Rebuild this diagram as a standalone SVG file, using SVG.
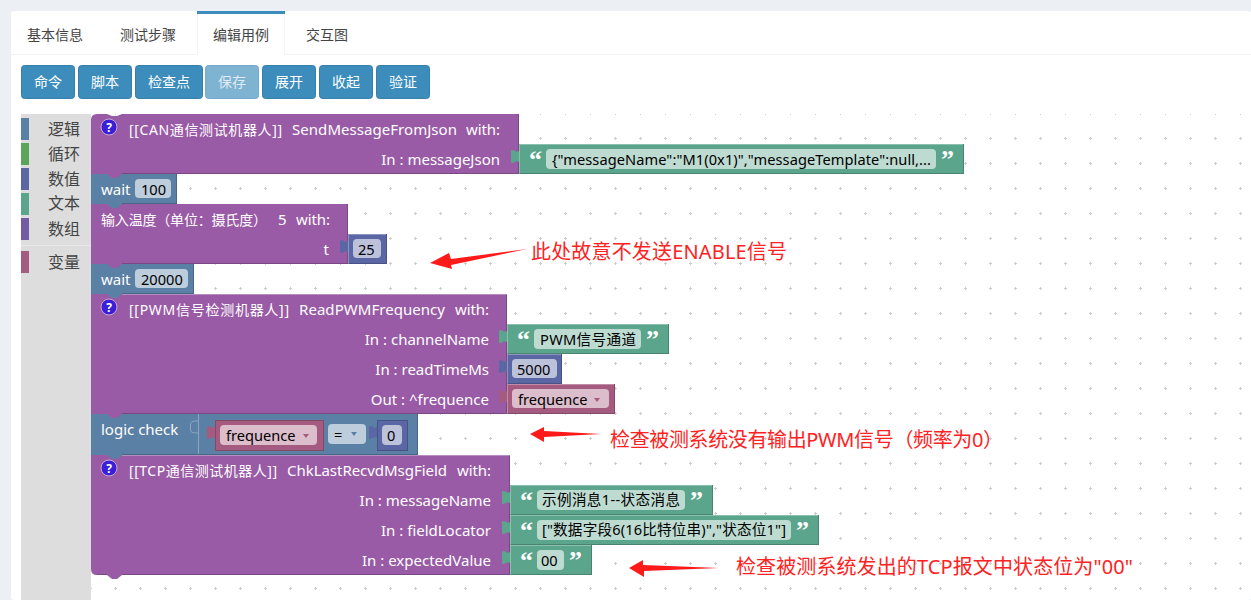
<svg xmlns="http://www.w3.org/2000/svg" width="1251" height="600" viewBox="0 0 1251 600">
<style>
text{font-family:"Noto Sans","Noto Sans CJK SC",sans-serif}
.tab{font-size:14px;fill:#444}
.btn{fill:#3c8dbc;stroke:#367fa9}
.btnt{font-size:14px;fill:#fff;text-anchor:middle}
.tb{font-size:16px;fill:#444}
.w{font-size:15px;fill:#fff}
.c{font-size:14px}
.r{font-size:15px;fill:#fff;text-anchor:end}
.k{font-size:14.6px;fill:#000}
.q{font-family:"Liberation Serif",serif;font-size:26px;font-weight:bold;fill:#fff}
.red{font-size:20px;fill:#ff2222}
.pu{fill:#995ba5}.bl{fill:#5b80a5}.gr{fill:#5ba58c}.nu{fill:#5b67a5}.va{fill:#a55b80}
.fg{fill:#bddbd1}.fb{fill:#bdcddb}.fn{fill:#bdc2db}.fv{fill:#dbbdcb}
.lp{stroke:#7a4984}.lb{stroke:#496684}.lg{stroke:#498470}.ln{stroke:#495284}.lv{stroke:#844966}
.hl{stroke:#fff;stroke-opacity:.3;fill:none}
.ar{fill:#ff1a1a}
</style>
<defs>
<pattern id="grid" x="13" y="11" width="25" height="25" patternUnits="userSpaceOnUse">
<path d="M1 2.500h3M2.500 1v3" stroke="#ccc" stroke-width="1"/>
</pattern>
<path id="pt" d="M0 1C-3 3-4 0-7 0C-8 0-8 1-8 2V11C-8 12-8 13-7 13C-4 13-3 10 0 12z"/>
</defs>
<rect width="1251" height="600" fill="#ecf0f5"/>
<rect x="11" y="11" width="1240" height="589" rx="3" fill="#fff"/>
<g id="tabs">
<path d="M11 54.500H1251" stroke="#f4f4f4"/>
<rect x="197" y="12" width="88" height="43" fill="#fff"/>
<path d="M197.500 14V55M284.500 14V55" stroke="#f4f4f4"/>
<rect x="197" y="11" width="88" height="3" fill="#3c8dbc"/>
<text class="tab" x="27" y="40">基本信息</text>
<text class="tab" x="120" y="40">测试步骤</text>
<text class="tab" x="213" y="40">编辑用例</text>
<text class="tab" x="306" y="40">交互图</text>
</g>
<g id="buttons">
<rect class="btn" x="21.500" y="65.500" width="53" height="33" rx="3"/><text class="btnt" x="48" y="87">命令</text>
<rect class="btn" x="78.500" y="65.500" width="53" height="33" rx="3"/><text class="btnt" x="105" y="87">脚本</text>
<rect class="btn" x="135.500" y="65.500" width="67" height="33" rx="3"/><text class="btnt" x="169" y="87">检查点</text>
<rect x="205.500" y="65.500" width="53" height="33" rx="3" fill="#7fb3d2" stroke="#76a9c9"/><text class="btnt" x="232" y="87" fill-opacity=".75">保存</text>
<rect class="btn" x="262.500" y="65.500" width="53" height="33" rx="3"/><text class="btnt" x="289" y="87">展开</text>
<rect class="btn" x="319.500" y="65.500" width="53" height="33" rx="3"/><text class="btnt" x="346" y="87">收起</text>
<rect class="btn" x="376.500" y="65.500" width="53" height="33" rx="3"/><text class="btnt" x="403" y="87">验证</text>
</g>
<rect x="91" y="114" width="1160" height="486" fill="url(#grid)"/>
<g id="toolbox">
<rect x="21" y="114" width="70" height="486" fill="#ddd"/>
<rect class="bl" x="21" y="118" width="8" height="22"/><text class="tb" x="48" y="135">逻辑</text>
<rect x="21" y="143" width="8" height="22" fill="#5ba55b"/><text class="tb" x="48" y="160">循环</text>
<rect class="nu" x="21" y="168" width="8" height="22"/><text class="tb" x="48" y="185">数值</text>
<rect class="gr" x="21" y="193" width="8" height="22"/><text class="tb" x="48" y="209">文本</text>
<rect x="21" y="218" width="8" height="22" fill="#745ba5"/><text class="tb" x="48" y="235">数组</text>
<path d="M21 245.500H91" stroke="#e8e8e8"/>
<rect class="va" x="21" y="251" width="8" height="22"/><text class="tb" x="48" y="268">变量</text>
</g>
<g id="block-tcp">
<path class="pu" d="M91 455H510V575H122l-5 4h-5l-5-4H97q-6 0-6-6z"/>
<path class="lp" d="M97 574.500H107M122 574.500H510M509.500 455V575" fill="none"/>
<path class="hl" d="M122 455.500H510"/>
<circle cx="109" cy="468" r="8" fill="#3a1fd6" stroke="#c9a9d0"/><text x="109" y="473" font-size="12" font-weight="bold" fill="#fff" text-anchor="middle">?</text>
<text class="w c" x="129" y="476" textLength="148">[[TCP通信测试机器人]]</text>
<text class="w" x="287" y="476" textLength="160">ChkLastRecvdMsgField</text>
<text class="w" x="457" y="476" textLength="34">with:</text>
<text class="r" x="491" y="506">In : messageName</text>
<text class="r" x="491" y="536">In : fieldLocator</text>
<text class="r" x="491" y="566">In : expectedValue</text>
</g>
<g id="value-messageName">
<use href="#pt" x="510" y="491" class="gr"/><rect class="gr" x="510" y="485" width="203" height="30"/><path class="lg" d="M510 514.500H713M712.500 485V515" fill="none"/><path class="hl" d="M510.500 515V485.500H712"/>
<text class="q" x="520" y="509">“</text><rect class="fg" x="537" y="490" width="148" height="20" rx="4"/>
<text class="k c" x="542" y="505" textLength="138">示例消息1--状态消息</text><text class="q" x="690" y="509">”</text>
</g>
<g id="value-fieldLocator">
<use href="#pt" x="510" y="521" class="gr"/><rect class="gr" x="510" y="515" width="309" height="30"/><path class="lg" d="M510 544.500H819M818.500 515V545" fill="none"/><path class="hl" d="M510.500 545V515.500H818"/>
<text class="q" x="520" y="539">“</text><rect class="fg" x="537" y="520" width="254" height="20" rx="4"/>
<text class="k c" x="542" y="535" textLength="244">["数据字段6(16比特位串)","状态位1"]</text><text class="q" x="796" y="539">”</text>
</g>
<g id="value-expected">
<use href="#pt" x="510" y="551" class="gr"/><rect class="gr" x="510" y="545" width="82" height="30"/><path class="lg" d="M510 574.500H592M591.500 545V575" fill="none"/><path class="hl" d="M510.500 575V545.500H591"/>
<text class="q" x="520" y="569">“</text><rect class="fg" x="537" y="550" width="27" height="20" rx="4"/>
<text class="k" x="541" y="566">00</text><text class="q" x="569" y="569">”</text>
</g>
<g id="block-logic">
<path class="bl" d="M91 414H418V455H122l-5 4h-5l-5-4H91z"/>
<path d="M198.500 414V455M198.500 421h-2q-6 0-6 3v6q0 3 6 3h2" stroke="#8ca6c0" fill="none"/>
<path class="lb" d="M122 454.500H418M417.500 414V455" fill="none"/>
<text class="w" x="101" y="435">logic check</text>
<use href="#pt" x="215" y="426" class="va"/>
<rect class="va lv" x="215.500" y="420.500" width="108" height="30"/>
<rect class="fv" x="220" y="425" width="97" height="20" rx="4"/>
<text class="k" x="226" y="441">frequence</text><path d="M303 434h6l-3 4z" class="va"/>
<rect class="fb" x="328" y="424" width="38" height="20" rx="4"/><text class="k" x="334" y="440">=</text><path d="M351 432h6l-3 4z" class="bl"/>
<use href="#pt" x="377" y="426" class="nu"/>
<rect class="nu ln" x="377.500" y="420.500" width="30" height="30"/>
<rect class="fn" x="382" y="425" width="20" height="20" rx="4"/><text class="k" x="387" y="441">0</text>
</g>
<g id="block-pwm">
<path class="pu" d="M91 294H507V414H122l-5 4h-5l-5-4H91z"/>
<path class="lp" d="M122 413.500H507M506.500 294V414" fill="none"/>
<path class="hl" d="M122 294.500H507"/>
<circle cx="109" cy="307" r="8" fill="#3a1fd6" stroke="#c9a9d0"/><text x="109" y="312" font-size="12" font-weight="bold" fill="#fff" text-anchor="middle">?</text>
<text class="w c" x="129" y="315" textLength="160">[[PWM信号检测机器人]]</text>
<text class="w" x="299" y="315" textLength="146">ReadPWMFrequency</text>
<text class="w" x="455" y="315" textLength="34">with:</text>
<text class="r" x="489" y="345">In : channelName</text>
<text class="r" x="489" y="375">In : readTimeMs</text>
<text class="r" x="489" y="405">Out : ^frequence</text>
</g>
<g id="value-channel">
<use href="#pt" x="507" y="330" class="gr"/><rect class="gr" x="507" y="324" width="162" height="30"/><path class="lg" d="M507 353.500H669M668.500 324V354" fill="none"/><path class="hl" d="M507.500 354V324.500H668"/>
<text class="q" x="517" y="348">“</text><rect class="fg" x="534" y="329" width="107" height="20" rx="4"/>
<text class="k c" x="540" y="345" textLength="96">PWM信号通道</text><text class="q" x="646" y="348">”</text>
</g>
<g id="value-readTime">
<use href="#pt" x="507" y="360" class="nu"/><rect class="nu" x="507" y="354" width="55" height="30"/><path class="ln" d="M507 383.500H562M561.500 354V384" fill="none"/><path class="hl" d="M507.500 384V354.500H561"/>
<rect class="fn" x="512" y="359" width="45" height="19" rx="4"/><text class="k" x="517" y="375">5000</text>
</g>
<g id="value-frequence">
<use href="#pt" x="507" y="390" class="va"/><rect class="va" x="507" y="384" width="108" height="30"/><path class="lv" d="M507 413.500H615M614.500 384V414" fill="none"/><path class="hl" d="M507.500 414V384.500H614"/>
<rect class="fv" x="512" y="389" width="97" height="19" rx="4"/><text class="k" x="518" y="405">frequence</text><path d="M594 398h6l-3 4z" class="va"/>
</g>
<g id="block-wait2">
<path class="bl" d="M91 264H194V294H122l-5 4h-5l-5-4H91z"/>
<path class="lb" d="M122 293.500H194M193.500 264V294" fill="none"/>
<text class="w" x="101" y="285">wait</text>
<rect class="fb" x="135" y="269" width="53" height="19" rx="4"/><text class="k" x="141" y="285">20000</text>
</g>
<g id="block-temp">
<path class="pu" d="M91 204H348V264H122l-5 4h-5l-5-4H91z"/>
<path class="lp" d="M122 263.500H348M347.500 204V264" fill="none"/>
<text class="w c" x="101" y="225" textLength="166">输入温度（单位：摄氏度）</text>
<text class="w" x="278" y="225">5</text>
<text class="w" x="296" y="225" textLength="34">with:</text>
<text class="r" x="329" y="255">t</text>
</g>
<g id="value-t">
<use href="#pt" x="348" y="240" class="nu"/><rect class="nu" x="348" y="234" width="39" height="30"/><path class="ln" d="M348 263.500H387M386.500 234V264" fill="none"/><path class="hl" d="M348.500 264V234.500H386"/>
<rect class="fn" x="353" y="239" width="28" height="19" rx="4"/><text class="k" x="358" y="255">25</text>
</g>
<g id="block-wait1">
<path class="bl" d="M91 174H177V204H122l-5 4h-5l-5-4H91z"/>
<path class="lb" d="M122 203.500H177M176.500 174V204" fill="none"/>
<text class="w" x="101" y="195">wait</text>
<rect class="fb" x="135" y="179" width="36" height="19" rx="4"/><text class="k" x="141" y="195">100</text>
</g>
<g id="block-can">
<path class="pu" d="M97 114H107l5 2h5l5-2H519V174H122l-5 4h-5l-5-4H91V120q0-6 6-6z"/>
<path class="lp" d="M122 173.500H519M518.500 114V174" fill="none"/>
<circle cx="109" cy="127" r="8" fill="#3a1fd6" stroke="#c9a9d0"/><text x="109" y="132" font-size="12" font-weight="bold" fill="#fff" text-anchor="middle">?</text>
<text class="w c" x="129" y="135" textLength="153">[[CAN通信测试机器人]]</text>
<text class="w" x="292" y="135" textLength="165">SendMessageFromJson</text>
<text class="w" x="466" y="135" textLength="34">with:</text>
<text class="r" x="500" y="165">In : messageJson</text>
</g>
<g id="value-json">
<use href="#pt" x="519" y="150" class="gr"/><rect class="gr" x="519" y="144" width="445" height="30"/><path class="lg" d="M519 173.500H964M963.500 144V174" fill="none"/><path class="hl" d="M519.500 174V144.500H963"/>
<text class="q" x="529" y="168">“</text><rect class="fg" x="546" y="149" width="390" height="20" rx="4"/>
<text class="k" x="552" y="165" textLength="379">{"messageName":"M1(0x1)","messageTemplate":null,...</text><text class="q" x="941" y="168">”</text>
</g>
<g id="connectors">
<polygon class="ar" points="527,249 451,259 449,253 430,263 452,269 451,265"/>
<polygon class="ar" points="601,434 544,431 544,427 530,434 544,442 544,437"/>
<polygon class="ar" points="719,568 643,565 643,560 629,568 644,577 644,571"/>
</g>
<g id="annotations">
<text class="red" x="531" y="259" textLength="256">此处故意不发送ENABLE信号</text>
<text class="red" x="610" y="447" textLength="393">检查被测系统没有输出PWM信号（频率为0）</text>
<text class="red" x="736" y="574" textLength="397">检查被测系统发出的TCP报文中状态位为"00"</text>
</g>
</svg>
